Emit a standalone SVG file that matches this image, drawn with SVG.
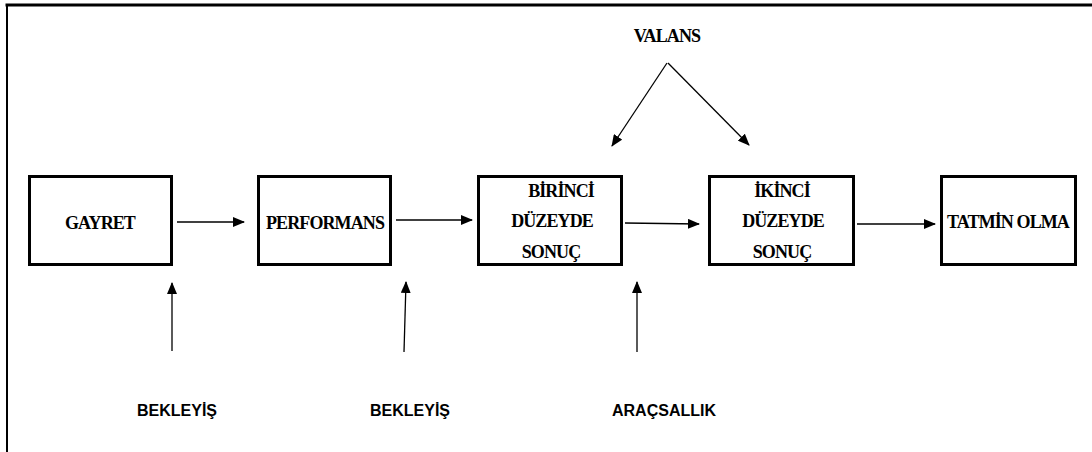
<svg xmlns="http://www.w3.org/2000/svg" width="1092" height="452" viewBox="0 0 1092 452">
<style>
.box{fill:#fff;stroke:#000;stroke-width:3}
.lbl{font-family:"Liberation Serif","Times New Roman","DejaVu Serif",serif;font-weight:bold;font-size:18px;fill:#000;text-anchor:middle;letter-spacing:-0.9px}
.sub{font-family:"Liberation Sans",Arial,sans-serif;font-weight:bold;font-size:16px;fill:#000;text-anchor:middle}
.ln{stroke:#000;stroke-width:1.3;fill:none;marker-end:url(#ah)}
</style>
<defs>
<marker id="ah" markerUnits="userSpaceOnUse" markerWidth="12" markerHeight="10" refX="11" refY="5" orient="auto">
<path d="M0,0 L12,5 L0,10 Z" fill="#000"/>
</marker>
</defs>
<g id="frame">
<line x1="5.5" y1="5" x2="1092" y2="5" stroke="#000" stroke-width="3"/>
<line x1="7" y1="4" x2="7" y2="452" stroke="#000" stroke-width="2"/>
</g>
<g id="gayret"><rect class="box" x="29.5" y="176.5" width="142" height="88"/><text class="lbl" x="100" y="229">GAYRET</text></g>
<g id="performans"><rect class="box" x="258.5" y="176.5" width="132" height="88"/><text class="lbl" x="325" y="229">PERFORMANS</text></g>
<g id="birinci"><rect class="box" x="478.5" y="176.5" width="143" height="88"/>
<text class="lbl" x="561" y="197">BİRİNCİ</text><text class="lbl" x="552" y="227">DÜZEYDE</text><text class="lbl" x="551" y="258">SONUÇ</text></g>
<g id="ikinci"><rect class="box" x="709.5" y="176.5" width="144" height="88"/>
<text class="lbl" x="782" y="197">İKİNCİ</text><text class="lbl" x="783" y="227">DÜZEYDE</text><text class="lbl" x="782" y="258">SONUÇ</text></g>
<g id="tatmin"><rect class="box" x="941.5" y="176.5" width="134" height="88"/><text class="lbl" x="1008" y="228">TATMİN OLMA</text></g>
<g id="valans"><text class="lbl" x="667" y="42">VALANS</text></g>
<g id="bekleyis1"><text class="sub" x="177" y="416">BEKLEYİŞ</text></g>
<g id="bekleyis2"><text class="sub" x="410" y="416">BEKLEYİŞ</text></g>
<g id="aracsallik"><text class="sub" x="664" y="416">ARAÇSALLIK</text></g>
<g id="connectors">
<line class="ln" x1="177" y1="222" x2="244" y2="222"/>
<line class="ln" x1="396" y1="220" x2="472" y2="220"/>
<line class="ln" x1="625" y1="223" x2="699" y2="224" stroke-width="2"/>
<line class="ln" x1="857" y1="224" x2="935" y2="224"/>
<line class="ln" x1="667" y1="63" x2="612" y2="146"/>
<line class="ln" x1="668" y1="63" x2="749" y2="145"/>
<line class="ln" x1="172" y1="351" x2="172" y2="283"/>
<line class="ln" x1="404" y1="352" x2="406" y2="282"/>
<line class="ln" x1="637" y1="352" x2="637" y2="282"/>
</g>
</svg>
